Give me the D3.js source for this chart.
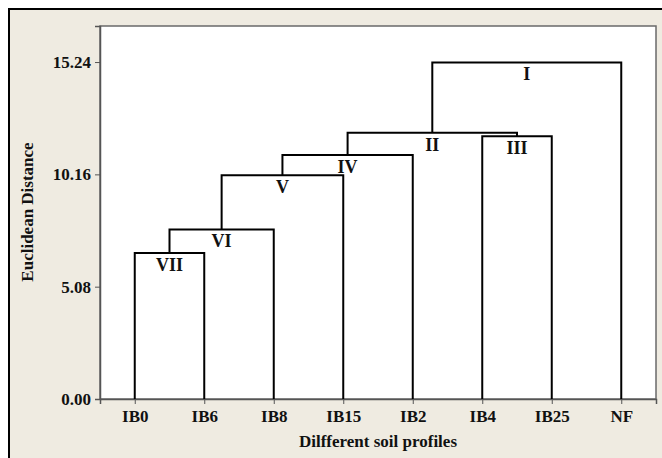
<!DOCTYPE html>
<html>
<head>
<meta charset="utf-8">
<script src="https://cdn.jsdelivr.net/npm/d3@7"></script>
<style>
  body { margin: 0; background: #fff; }
  text { font-family: "Liberation Serif", "Times New Roman", serif; font-weight: bold; fill: #111; }
</style>
</head>
<body>
<div class="chart"></div>
<script>
// leaves, left to right
var profiles = [`IB0`, `IB6`, `IB8`, `IB15`, `IB2`, `IB4`, `IB25`, `NF`];

// merges: label, the two joined items, height
var clusterLabels = [`VII`, `VI`, `V`, `IV`, `III`, `II`, `I`];
var mergeLeft  = [`IB0`, `VII`, `VI`, `V`, `IB4`, `IV`, `II`];
var mergeRight = [`IB6`, `IB8`, `IB15`, `IB2`, `IB25`, `III`, `NF`];
var mergeHeight = [6.60, 7.67, 10.12, 11.04, 11.88, 12.04, 15.22];

var yTicks = [0, 5.08, 10.16, 15.24];

var fullWidth = 662, fullHeight = 458;
var margin = {top: 26, right: 6, bottom: 59, left: 100};
var width = fullWidth - margin.left - margin.right;
var height = fullHeight - margin.top - margin.bottom;

var svg = d3.select(`.chart`)
    .append(`svg`)
    .attr(`width`, fullWidth)
    .attr(`height`, fullHeight);

// outer beige panel with black top/left edge
svg.append(`rect`)
    .attr(`x`, 9).attr(`y`, 9)
    .attr(`width`, fullWidth - 9).attr(`height`, fullHeight - 9)
    .style(`fill`, `#efebe1`);
svg.append(`path`)
    .attr(`d`, `M9,${fullHeight} V9 H${fullWidth}`)
    .style(`fill`, `none`).style(`stroke`, `#000`).style(`stroke-width`, 2);

var g = svg.append(`g`)
    .attr(`transform`, `translate(${margin.left},${margin.top})`);

g.append(`rect`)
    .attr(`width`, width).attr(`height`, height)
    .style(`fill`, `#fff`)
    .style(`stroke`, `#6a6a6a`)
    .style(`stroke-width`, 1.5);

var xScale = d3.scalePoint()
    .domain(profiles)
    .range([0, width])
    .padding(0.5);

var yScale = d3.scaleLinear()
    .domain([0, 16.87])
    .range([height, 0]);

var yAxis = g.append(`g`)
    .call(d3.axisLeft(yScale).tickValues(yTicks).tickFormat(d3.format(`.2f`)).tickSize(5).tickPadding(4));
yAxis.selectAll(`text`).style(`font-size`, `17px`).style(`font-family`, `"Liberation Serif", serif`).style(`font-weight`, `bold`);

var xAxis = g.append(`g`)
    .attr(`transform`, `translate(0,${height})`)
    .call(d3.axisBottom(xScale).tickSize(5).tickPadding(6));
xAxis.selectAll(`text`).style(`font-size`, `17px`).style(`font-family`, `"Liberation Serif", serif`).style(`font-weight`, `bold`);

[yAxis, xAxis].forEach(a => {
    a.select(`.domain`).style(`stroke`, `#555`).style(`stroke-width`, 1.5);
    a.selectAll(`.tick line`).style(`stroke`, `#555`);
});

// build node positions from the merges
var nodeX = {}, nodeH = {};
profiles.forEach(p => { nodeX[p] = xScale(p); nodeH[p] = 0; });
clusterLabels.forEach((c, i) => {
    nodeX[c] = (nodeX[mergeLeft[i]] + nodeX[mergeRight[i]]) / 2;
    nodeH[c] = mergeHeight[i];
});

var links = clusterLabels.map((c, i) => ({label: c, left: mergeLeft[i], right: mergeRight[i], h: mergeHeight[i]}));

g.selectAll(`.link`)
    .data(links)
    .enter()
    .append(`path`)
    .attr(`class`, `link`)
    .attr(`d`, d => `M${nodeX[d.left]},${yScale(nodeH[d.left])}` +
        `V${yScale(d.h)}H${nodeX[d.right]}V${yScale(nodeH[d.right])}`)
    .style(`fill`, `none`)
    .style(`stroke`, `#000`)
    .style(`stroke-width`, 2);

g.selectAll(`.clabel`)
    .data(links)
    .enter()
    .append(`text`)
    .attr(`class`, `clabel`)
    .attr(`x`, d => nodeX[d.label])
    .attr(`y`, d => yScale(d.h) + 18)
    .attr(`text-anchor`, `middle`)
    .style(`font-size`, `18px`)
    .text(d => d.label);

svg.append(`text`)
    .attr(`x`, margin.left + width / 2)
    .attr(`y`, 447)
    .attr(`text-anchor`, `middle`)
    .style(`font-size`, `17px`)
    .text(`Dilfferent soil profiles`);

svg.append(`text`)
    .attr(`transform`, `translate(33,212) rotate(-90)`)
    .attr(`text-anchor`, `middle`)
    .style(`font-size`, `17px`)
    .text(`Euclidean Distance`);
</script>
</body>
</html>
